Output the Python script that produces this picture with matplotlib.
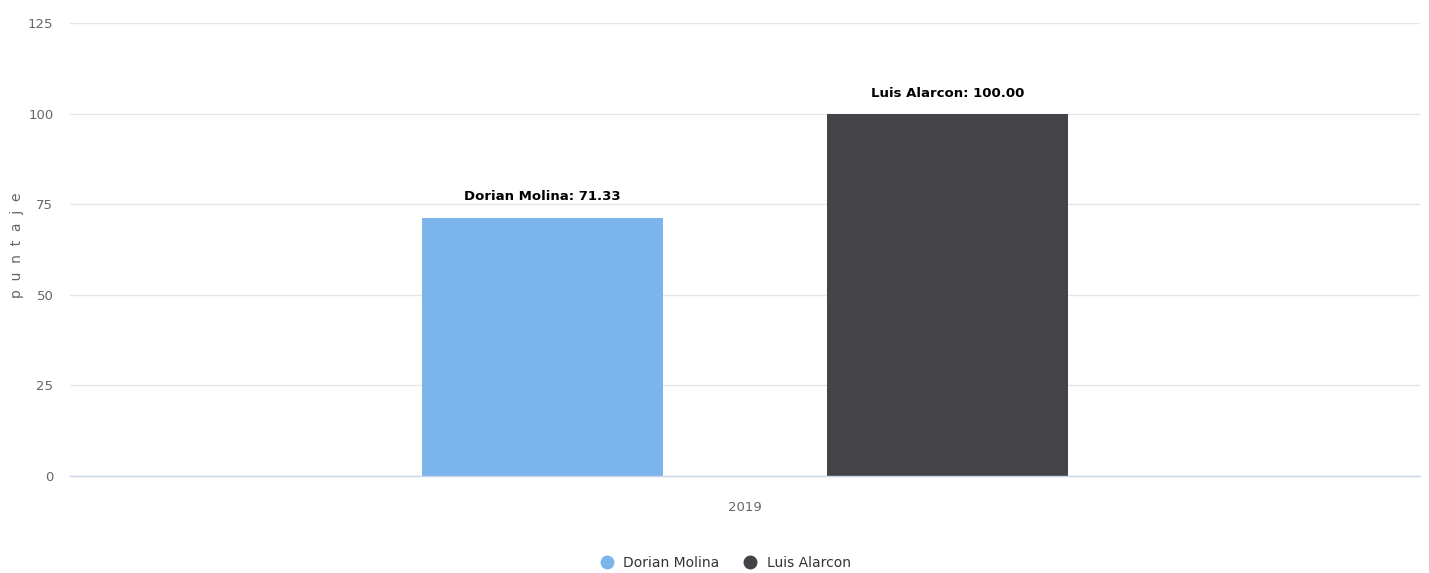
import matplotlib
matplotlib.use("Agg")
import matplotlib.pyplot as plt
from matplotlib.lines import Line2D

categories = ["2019"]
series_names = ["Dorian Molina", "Luis Alarcon"]
series_values = [[71.33], [100.00]]
series_colors = ["#7cb5ec", "#434348"]
y_ticks = [0, 25, 50, 75, 100, 125]

FONT = dict(family="DejaVu Sans")

fig = plt.figure(figsize=(14.29, 5.73), dpi=100)
ax = fig.add_axes([0.049, 0.1693, 0.9448, 0.7897])

offsets = [-0.15, 0.15]
width = 0.179
for name, vals, color, off in zip(series_names, series_values, series_colors, offsets):
    for i, v in enumerate(vals):
        ax.bar(i + off, v, width=width, color=color, zorder=3)
        ax.text(i + off, v + 4.0, f"{name}: {v:.2f}", ha="center", va="bottom",
                fontsize=9.5, fontweight="bold", color="#000000", zorder=4, **FONT)

ax.set_xlim(-0.5, 0.5)
ax.set_ylim(0, 125)
ax.set_yticks(y_ticks)
ax.set_yticklabels([str(t) for t in y_ticks], color="#666666", fontsize=9.5, **FONT)
ax.set_xticks(range(len(categories)))
ax.set_xticklabels(categories, color="#666666", fontsize=9.5, **FONT)
ax.tick_params(axis="y", length=0, pad=12)
ax.tick_params(axis="x", length=0, pad=18)

ax.grid(axis="y", color="#e6e6e6", linewidth=1, zorder=0)
for s in ["top", "right", "left"]:
    ax.spines[s].set_visible(False)
ax.spines["bottom"].set_color("#ccd6eb")
ax.spines["bottom"].set_linewidth(1)
ax.spines["bottom"].set_zorder(5)

fig.text(0.012, 0.572, "p  u  n  t  a  j  e", rotation=90, ha="center", va="center",
         color="#666666", fontsize=10)

handles = [Line2D([0], [0], marker="o", linestyle="none", markersize=9,
                  markerfacecolor=c, markeredgecolor=c) for c in series_colors]
leg = fig.legend(handles, series_names, loc="center", bbox_to_anchor=(0.505, 0.017),
                 ncol=2, frameon=False, handletextpad=0.2, columnspacing=1.2,
                 prop=dict(size=10, **FONT))
for t in leg.get_texts():
    t.set_color("#333333")

fig.savefig("out.png", dpi=100, facecolor="white")
